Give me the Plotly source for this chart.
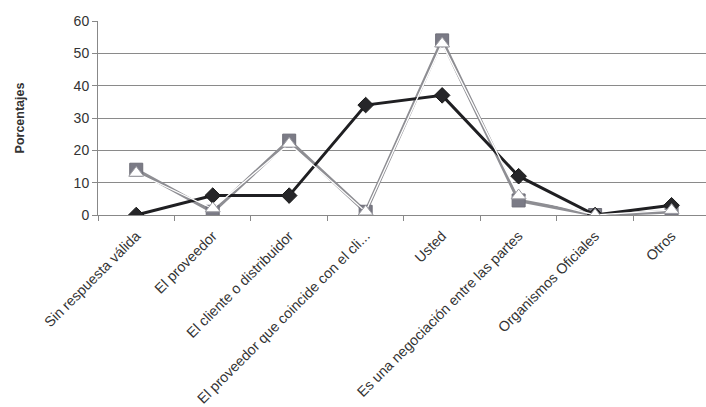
import plotly.graph_objects as go

categories = [
    "Sin respuesta válida",
    "El proveedor",
    "El cliente o distribuidor",
    "El proveedor que coincide con el cli...",
    "Usted",
    "Es una negociación entre las partes",
    "Organismos Oficiales",
    "Otros",
]
serie_rombo = [0, 6, 6, 34, 37, 12, 0, 3]
serie_cuadrado = [14, 1, 23, 1, 54, 4.5, 0, 1]
serie_triangulo = [13, 2, 22, 1, 53, 6, 0, 1.5]
y_ticks = [0, 10, 20, 30, 40, 50, 60]

FONT = "Liberation Sans, Arial, sans-serif"

fig = go.Figure()

fig.add_trace(go.Scatter(
    x=categories, y=serie_cuadrado, mode="lines+markers",
    line=dict(color="#8e8e93", width=3.5),
    marker=dict(symbol="square", size=13, color="#7b7b86",
                line=dict(color="#6e6e78", width=1)),
    showlegend=False,
))
fig.add_trace(go.Scatter(
    x=categories, y=serie_rombo, mode="lines+markers",
    line=dict(color="#1f1f22", width=3),
    marker=dict(symbol="diamond", size=12, color="#262629",
                line=dict(color="#1a1a1a", width=1)),
    showlegend=False,
))
fig.add_trace(go.Scatter(
    x=categories, y=serie_triangulo, mode="lines+markers",
    line=dict(color="#ffffff", width=1.3),
    marker=dict(symbol="triangle-up", size=13, color="#ffffff",
                line=dict(color="#9a9aa0", width=1)),
    showlegend=False,
))

fig.update_layout(
    width=706, height=407,
    margin=dict(l=98, r=0, t=21, b=192),
    paper_bgcolor="white", plot_bgcolor="white",
    font=dict(family=FONT, size=14, color="#333333"),
    xaxis=dict(
        type="category",
        range=[-0.5, 7.45],
        tickangle=-45,
        tickson="boundaries",
        ticks="outside", ticklen=5, tickcolor="#888888",
        ticklabelstandoff=6,
        showgrid=False,
        showline=True, linecolor="#888888", linewidth=1,
        tickfont=dict(family=FONT, size=14.3, color="#333333"),
    ),
    yaxis=dict(
        range=[0, 60],
        tickvals=y_ticks,
        ticks="outside", ticklen=5, tickcolor="#888888",
        showgrid=True, gridcolor="#8a8a8a", gridwidth=1,
        showline=True, linecolor="#888888", linewidth=1,
        zeroline=False,
        tickfont=dict(family=FONT, size=14, color="#333333"),
        title=dict(text="<b>Porcentajes</b>", standoff=46,
                   font=dict(family=FONT, size=12.5, color="#333333")),
    ),
)

fig.write_html("out.html")
